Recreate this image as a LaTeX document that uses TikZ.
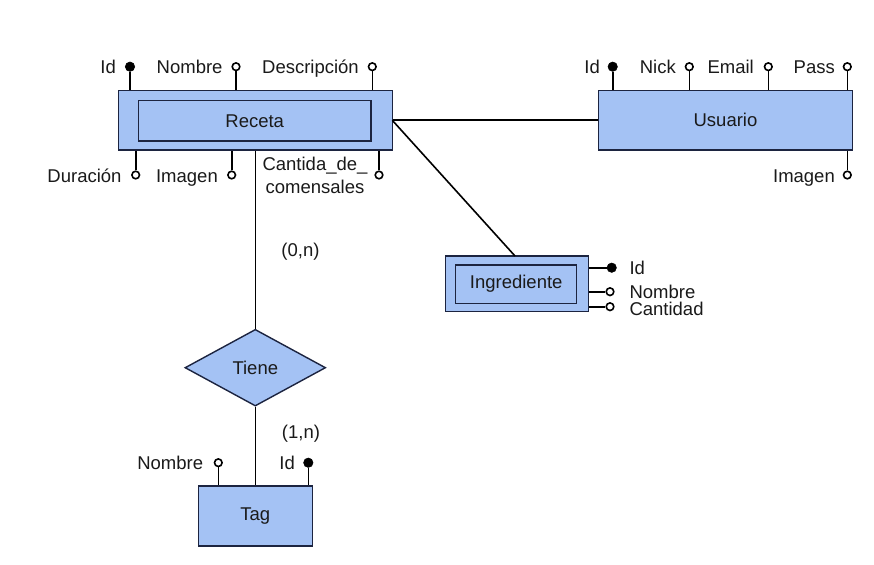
\documentclass[tikz,border=0pt]{standalone}
\usepackage{fontspec}
\setmainfont{Liberation Sans}
\usetikzlibrary{shapes.geometric}
\definecolor{fillblue}{HTML}{A4C2F4}
\definecolor{edge}{HTML}{1C2440}
\definecolor{txt}{HTML}{1A1A1A}
\tikzset{
  ent/.style={draw=edge, line width=1.4pt, fill=fillblue, rectangle, inner sep=0pt, text=txt},
  inner/.style={draw=edge, line width=1.4pt, rectangle, inner sep=0pt, text=txt},
  rel/.style={draw=edge, line width=1.4pt, fill=fillblue, diamond, inner sep=0pt, text=txt},
  keyattr/.style={circle, fill=black, draw=black, line width=0.6pt, minimum size=9.4pt, inner sep=0pt},
  attr/.style={circle, fill=white, draw=black, line width=1.6pt, minimum size=7.6pt, inner sep=0pt},
  lbl/.style={inner sep=0pt, text=txt},
  conn/.style={draw=black, line width=1.6pt},
}
\begin{document}
\begin{tikzpicture}[x=1pt, y=-1pt, font=\fontsize{18.5}{22.6}\selectfont]
\useasboundingbox[fill=white] (0,0) rectangle (874,564);

% ---------- entities ----------
\node[ent, minimum width=274pt, minimum height=59.3pt] (receta) at (255.3,120.3) {};
\node[inner, minimum width=232.7pt, minimum height=40.3pt] (recetaIn) at (254.7,120.8) {Receta};
\node[ent, minimum width=254.4pt, minimum height=59.3pt] (usuario) at (725.5,120.3) {Usuario};
\node[ent, minimum width=142.6pt, minimum height=55.7pt] (ingr) at (517,283.8) {};
\node[inner, minimum width=121pt, minimum height=38.3pt] (ingrIn) at (516.2,284.2) {Ingrediente};
\node[rel, minimum width=140.7pt, minimum height=76.7pt] (tiene) at (255.3,367.7) {Tiene};
\node[ent, minimum width=114pt, minimum height=60pt] (tag) at (255.3,516) {Tag};

% ---------- relationships ----------
\coordinate (recR) at (392.3,120.3);
\coordinate (ingTop) at (515,256);
\draw[conn] (receta.east) -- (usuario.west);
\draw[conn] (recR) -- (ingTop);
\draw[conn] (receta.south) -- (tiene.north);
\draw[conn] (tiene.south) -- (tag.north);
\node[lbl, anchor=base] (c0n) at (300.5,256.5) {(0,n)};
\node[lbl, anchor=base] (c1n) at (301,438) {(1,n)};

% ---------- Receta attributes ----------
\node[keyattr] (rId) at (130,66.7) {};
\node[attr] (rNom) at (236,66.7) {};
\node[attr] (rDesc) at (372.3,66.7) {};
\node[attr] (rDur) at (135.7,175) {};
\node[attr] (rImg) at (231.7,175) {};
\node[attr] (rCom) at (379,175) {};
\draw[conn] (rId) -- (rId |- receta.north);
\draw[conn] (rNom) -- (rNom |- receta.north);
\draw[conn] (rDesc) -- (rDesc |- receta.north);
\draw[conn] (rDur) -- (rDur |- receta.south);
\draw[conn] (rImg) -- (rImg |- receta.south);
\draw[conn] (rCom) -- (rCom |- receta.south);
\node[lbl, anchor=base east] (lrId) at (116,74) {Id};
\node[lbl, anchor=base east] (lrNom) at (222.7,74) {Nombre};
\node[lbl, anchor=base east] (lrDesc) at (359,74) {Descripción};
\node[lbl, anchor=base east] (lrDur) at (121.7,182.3) {Duración};
\node[lbl, anchor=base east] (lrImg) at (218,182.3) {Imagen};
\node[lbl, anchor=base, align=center] (lrCom) at (315,193.3) {Cantida\_de\_\\comensales};

% ---------- Usuario attributes ----------
\node[keyattr] (uId) at (612.7,66.7) {};
\node[attr] (uNick) at (689.3,66.7) {};
\node[attr] (uMail) at (768.3,66.7) {};
\node[attr] (uPass) at (847.3,66.7) {};
\node[attr] (uImg) at (847.3,175) {};
\draw[conn] (uId) -- (uId |- usuario.north);
\draw[conn] (uNick) -- (uNick |- usuario.north);
\draw[conn] (uMail) -- (uMail |- usuario.north);
\draw[conn] (uPass) -- (uPass |- usuario.north);
\draw[conn] (uImg) -- (uImg |- usuario.south);
\node[lbl, anchor=base east] (luId) at (600,74) {Id};
\node[lbl, anchor=base east] (luNick) at (676,74) {Nick};
\node[lbl, anchor=base east] (luMail) at (754,74) {Email};
\node[lbl, anchor=base east] (luPass) at (835,74) {Pass};
\node[lbl, anchor=base east] (luImg) at (835,182.3) {Imagen};

% ---------- Ingrediente attributes ----------
\node[keyattr] (iId) at (611.7,267.7) {};
\node[attr] (iNom) at (610,291.7) {};
\node[attr] (iCant) at (610,306.7) {};
\draw[conn] (iId) -- (iId -| ingr.east);
\draw[conn] (iNom) -- (iNom -| ingr.east);
\draw[conn] (iCant) -- (iCant -| ingr.east);
\node[lbl, anchor=base west] (liId) at (629.3,274.5) {Id};
\node[lbl, anchor=base west] (liNom) at (629.3,298.5) {Nombre};
\node[lbl, anchor=base west] (liCant) at (629.3,315.5) {Cantidad};

% ---------- Tag attributes ----------
\node[attr] (tNom) at (218.3,462.7) {};
\node[keyattr] (tId) at (308.3,462.7) {};
\draw[conn] (tNom) -- (tNom |- tag.north);
\draw[conn] (tId) -- (tId |- tag.north);
\node[lbl, anchor=base east] (ltNom) at (203.3,469) {Nombre};
\node[lbl, anchor=base east] (ltId) at (295,469) {Id};
\end{tikzpicture}
\end{document}
